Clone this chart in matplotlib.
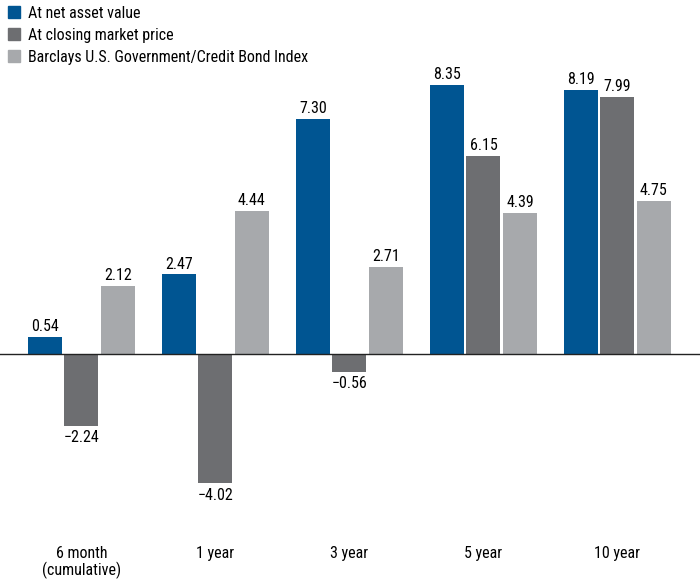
import matplotlib
matplotlib.use("Agg")
import matplotlib.pyplot as plt
import numpy as np
from matplotlib.lines import Line2D

plt.rcParams['font.family'] = ['Roboto Condensed', 'DejaVu Sans']

periods = ["6 month\n(cumulative)", "1 year", "3 year", "5 year", "10 year"]
series_names = ["At net asset value", "At closing market price",
                "Barclays U.S. Government/Credit Bond Index"]
nav = [0.54, 2.47, 7.30, 8.35, 8.19]
market = [-2.24, -4.02, -0.56, 6.15, 7.99]
index = [2.12, 4.44, 2.71, 4.39, 4.75]

colors = ["#005592", "#6d6e71", "#a7a9ac"]

fig = plt.figure(figsize=(7, 5.84), dpi=100)
ax = fig.add_axes([0, 0, 1, 1])

x = np.arange(len(periods))
width = 0.254
offsets = [-0.272, 0.0, 0.272]

for vals, off, c in zip([nav, market, index], offsets, colors):
    bars = ax.bar(x + off, vals, width, color=c, zorder=2)
    for b, v in zip(bars, vals):
        txt = f"{v:.2f}".replace("-", "\u2212")
        if v >= 0:
            ax.annotate(txt, (b.get_x() + b.get_width() / 2, v), xytext=(0, 2),
                        textcoords="offset points", ha="center", va="bottom",
                        fontsize=11.5)
        else:
            ax.annotate(txt, (b.get_x() + b.get_width() / 2, v), xytext=(0, -3),
                        textcoords="offset points", ha="center", va="top",
                        fontsize=11.5)

ax.axhline(0, color="#222222", linewidth=1, zorder=3)

for xi, lab in zip(x, periods):
    ax.text(xi, -5.95, lab, ha="center", va="top", fontsize=11.5, linespacing=1.05)

ax.set_xlim(-0.608, 4.616)
ax.set_ylim(-7.14, 10.99)
ax.axis("off")

handles = [Line2D([], [], marker="s", linestyle="none", markersize=9,
                  markerfacecolor=c, markeredgecolor=c) for c in colors]
ax.legend(handles, series_names, loc="upper left", bbox_to_anchor=(-0.012, 1.015),
          frameon=False, fontsize=11.5, handletextpad=0.4, labelspacing=0.45,
          handlelength=1.0)

fig.savefig("out.png", dpi=100)
